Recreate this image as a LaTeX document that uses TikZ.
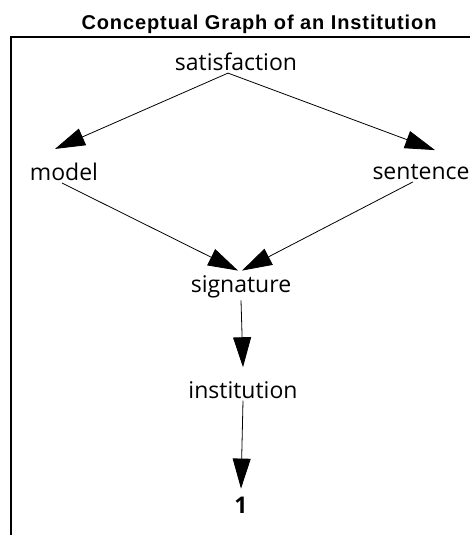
\documentclass[tikz,border=0pt]{standalone}
\usepackage{fontspec}
\setmainfont{Open Sans}
\newfontfamily\titlefont[LetterSpace=4.5]{Liberation Sans}
\usetikzlibrary{arrows.meta, positioning}

\begin{document}
\begin{tikzpicture}[
      x=1pt, y=1pt,
      every node/.style={font=\fontsize{23}{25}\selectfont, inner sep=2pt},
      arr/.style={-{Triangle[length=30pt, width=18pt]}, line width=0.8pt}
    ]
      \useasboundingbox (0,0) rectangle (470,535);
      % frame
      \draw[line width=2pt] (11,0) -- (11,498) -- (470,498);

      \node (title) at (259,511) {\titlefont\bfseries\fontsize{20}{22}\selectfont Conceptual Graph of an Institution};
      \node (sat) at (236,473) {satisfaction};
      \node (model) at (64,363) {model};
      \node (sentence) at (421,363) {sentence};
      \node (sig) at (241,248) {signature};
      \node (inst) at (243,145) {institution};
      \node (one) at (241,30) {\bfseries 1};

      \draw[arr] ([xshift=-8pt]sat.south) -- ([xshift=-9pt, yshift=12pt]model.north);
      \draw[arr] ([xshift=-8pt]sat.south) -- ([xshift=14pt, yshift=12pt]sentence.north);
      \draw[arr] ([xshift=-2pt]model.south) -- ([xshift=-3pt, yshift=3pt]sig.north);
      \draw[arr] ([xshift=-8pt]sentence.south) -- ([xshift=1pt, yshift=3pt]sig.north);
      \draw[arr] (sig.south) -- ([yshift=12pt]inst.north);
      \draw[arr] (inst.south) -- ([yshift=6pt]one.north);
    \end{tikzpicture}
\end{document}
